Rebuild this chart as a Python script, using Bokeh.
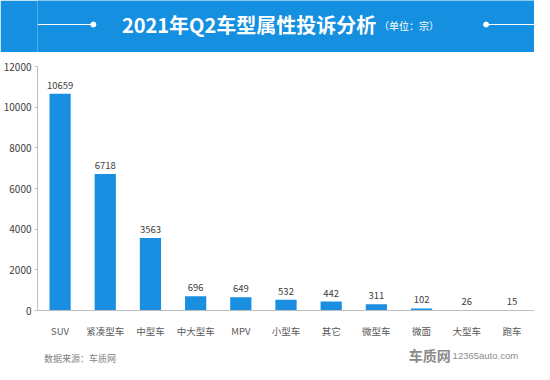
from bokeh.plotting import figure
from bokeh.layouts import column
from bokeh.models import Range1d, ColumnDataSource
from bokeh.core.properties import value
from bokeh.embed import file_html
from bokeh.resources import INLINE

categories = ["SUV", "紧凑型车", "中型车", "中大型车", "MPV", "小型车", "其它", "微型车", "微面", "大型车", "跑车"]
complaints = [10659, 6718, 3563, 696, 649, 532, 442, 311, 102, 26, 15]
y_ticks = [0, 2000, 4000, 6000, 8000, 10000, 12000]

title_text = "2021年Q2车型属性投诉分析"
unit_text = "（单位：宗）"
source_text = "数据来源：车质网"

FONT = "Noto Sans CJK SC"
BLUE = "#1590e0"
W = 534

# ---------- header ----------
h = figure(width=W, height=52, x_range=Range1d(0, W), y_range=Range1d(0, 52),
           x_axis_type=None, y_axis_type=None, toolbar_location=None,
           output_backend="svg", min_border=0)
h.grid.visible = False
h.outline_line_color = None
h.background_fill_color = BLUE
h.border_fill_color = BLUE
h.segment(x0=[0, 482], y0=[28, 28], x1=[60, W], y1=[28, 28], line_color="white", line_width=1.2)
h.scatter(x=[60, 482], y=[28, 28], size=5, fill_color="white", line_color="white")
h.text(x=[364], y=[28], text=[title_text], text_font=value(FONT), text_font_style="bold",
       text_font_size="20px", text_color="white", text_align="right", text_baseline="middle")
h.text(x=[367], y=[27], text=[unit_text], text_font=value(FONT),
       text_font_size="10px", text_color="white", text_align="left", text_baseline="middle")

# ---------- main chart ----------
p = figure(width=W, height=288, x_range=categories, y_range=Range1d(0, 12000),
           toolbar_location=None, output_backend="svg",
           min_border_left=30, min_border_right=0, min_border_top=14, min_border_bottom=26)
p.x_range.range_padding = 0.0
p.grid.visible = False
p.outline_line_color = None
p.background_fill_color = "white"
p.border_fill_color = "white"

src = ColumnDataSource(dict(cat=categories, val=complaints, lab=[str(v) for v in complaints]))
p.vbar(x="cat", top="val", width=0.47, source=src, fill_color="#1a8fe2", line_color=None)
p.text(x="cat", y="val", text="lab", source=src, y_offset=-5, text_align="center",
       text_baseline="bottom", text_font=value(FONT), text_font_size="9.5px", text_color="#404040")

p.yaxis.ticker = y_ticks
p.yaxis.axis_line_color = "#bfbfbf"
p.yaxis.major_tick_line_color = "#bfbfbf"
p.yaxis.major_tick_out = 3
p.yaxis.major_tick_in = 0
p.yaxis.minor_tick_line_color = None
p.yaxis.major_label_standoff = 3
p.yaxis.major_label_text_font = FONT
p.yaxis.major_label_text_font_size = "10px"
p.yaxis.major_label_text_color = "#404040"

p.xaxis.axis_line_color = "#bfbfbf"
p.xaxis.major_tick_line_color = None
p.xaxis.major_label_standoff = 7
p.xaxis.major_label_text_font = FONT
p.xaxis.major_label_text_font_size = "9.5px"
p.xaxis.major_label_text_color = "#595959"

# ---------- footer ----------
f = figure(width=W, height=24, x_range=Range1d(0, W), y_range=Range1d(0, 24),
           x_axis_type=None, y_axis_type=None, toolbar_location=None,
           output_backend="svg", min_border=0)
f.grid.visible = False
f.outline_line_color = None
f.background_fill_color = "white"
f.border_fill_color = "white"
f.text(x=[7], y=[6], text=[source_text], text_font=value(FONT), text_font_size="9px",
       text_color="#7f7f7f", text_align="left", text_baseline="middle")
f.text(x=[399], y=[10], text=["车质网"], text_font=value(FONT), text_font_style="bold",
       text_font_size="14px", text_color="#8c8c8c", text_align="left", text_baseline="middle")
f.text(x=[446], y=[9], text=["12365auto.com"], text_font=value("Liberation Sans"), text_font_size="9.5px",
       text_color="#8c8c8c", text_align="left", text_baseline="middle")

layout = column(h, p, f, spacing=0)
open("out.html", "w").write(file_html(layout, INLINE))
